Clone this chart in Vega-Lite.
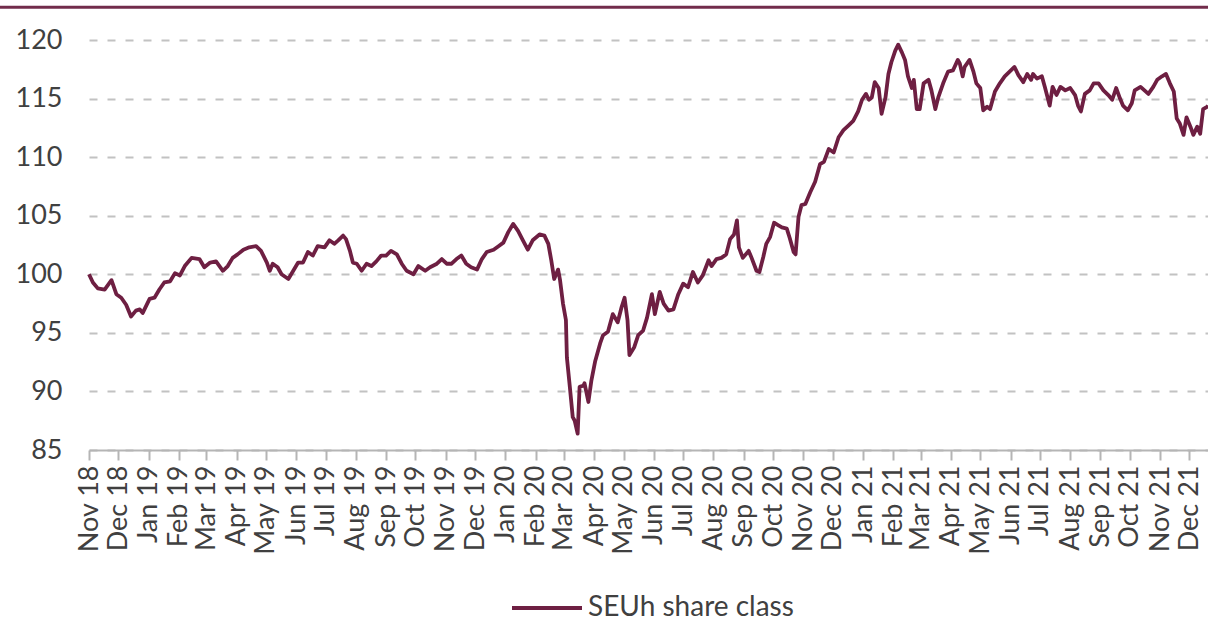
{
  "$schema": "https://vega.github.io/schema/vega-lite/v6.json",
  "width": 1119,
  "height": 410,
  "autosize": {"type": "none"},
  "padding": {"left": 89, "top": 40, "right": 0, "bottom": 173},
  "background": "white",
  "config": {"font": "Lato", "view": {"stroke": null}},
  "layer": [
    {
      "data": {"values": [{"label": "top rule"}]},
      "mark": {"type": "rule", "color": "#722c4b", "strokeWidth": 3},
      "encoding": {
        "y": {"datum": 122.8, "type": "quantitative"},
        "x": {"datum": {"year": 2018, "month": 8, "date": 1, "utc": true}, "type": "temporal"},
        "x2": {"datum": {"year": 2021, "month": 12, "date": 25, "utc": true}}
      }
    },
    {
      "data": {"values": [
        {"date": "2018-11-01", "value": 100.0},
        {"date": "2018-11-05", "value": 99.3},
        {"date": "2018-11-10", "value": 98.8},
        {"date": "2018-11-17", "value": 98.7},
        {"date": "2018-11-24", "value": 99.5},
        {"date": "2018-11-29", "value": 98.3},
        {"date": "2018-12-04", "value": 98.0},
        {"date": "2018-12-09", "value": 97.4},
        {"date": "2018-12-14", "value": 96.4},
        {"date": "2018-12-19", "value": 96.9},
        {"date": "2018-12-23", "value": 97.0},
        {"date": "2018-12-26", "value": 96.7},
        {"date": "2019-01-02", "value": 97.9},
        {"date": "2019-01-07", "value": 98.0},
        {"date": "2019-01-12", "value": 98.7},
        {"date": "2019-01-17", "value": 99.3},
        {"date": "2019-01-23", "value": 99.4},
        {"date": "2019-01-28", "value": 100.1},
        {"date": "2019-02-02", "value": 99.9},
        {"date": "2019-02-07", "value": 100.7},
        {"date": "2019-02-14", "value": 101.4},
        {"date": "2019-02-22", "value": 101.3},
        {"date": "2019-02-27", "value": 100.6},
        {"date": "2019-03-05", "value": 101.0},
        {"date": "2019-03-11", "value": 101.1},
        {"date": "2019-03-18", "value": 100.3},
        {"date": "2019-03-23", "value": 100.7},
        {"date": "2019-03-28", "value": 101.4},
        {"date": "2019-04-02", "value": 101.7},
        {"date": "2019-04-08", "value": 102.1},
        {"date": "2019-04-14", "value": 102.3},
        {"date": "2019-04-21", "value": 102.4},
        {"date": "2019-04-26", "value": 102.0},
        {"date": "2019-05-02", "value": 101.0},
        {"date": "2019-05-05", "value": 100.3},
        {"date": "2019-05-08", "value": 100.9},
        {"date": "2019-05-13", "value": 100.6},
        {"date": "2019-05-17", "value": 100.0},
        {"date": "2019-05-24", "value": 99.6},
        {"date": "2019-05-29", "value": 100.3},
        {"date": "2019-06-03", "value": 101.0},
        {"date": "2019-06-08", "value": 101.0},
        {"date": "2019-06-13", "value": 101.9},
        {"date": "2019-06-18", "value": 101.6},
        {"date": "2019-06-23", "value": 102.4},
        {"date": "2019-06-30", "value": 102.3},
        {"date": "2019-07-05", "value": 102.9},
        {"date": "2019-07-10", "value": 102.6},
        {"date": "2019-07-14", "value": 102.9},
        {"date": "2019-07-19", "value": 103.3},
        {"date": "2019-07-22", "value": 103.0},
        {"date": "2019-07-26", "value": 102.0},
        {"date": "2019-07-29", "value": 101.0},
        {"date": "2019-08-02", "value": 100.9},
        {"date": "2019-08-07", "value": 100.3},
        {"date": "2019-08-12", "value": 100.9},
        {"date": "2019-08-17", "value": 100.7},
        {"date": "2019-08-22", "value": 101.1},
        {"date": "2019-08-27", "value": 101.6},
        {"date": "2019-09-01", "value": 101.6},
        {"date": "2019-09-06", "value": 102.0},
        {"date": "2019-09-12", "value": 101.7},
        {"date": "2019-09-17", "value": 100.9},
        {"date": "2019-09-22", "value": 100.3},
        {"date": "2019-09-29", "value": 100.0},
        {"date": "2019-10-04", "value": 100.7},
        {"date": "2019-10-11", "value": 100.3},
        {"date": "2019-10-16", "value": 100.6},
        {"date": "2019-10-23", "value": 100.9},
        {"date": "2019-10-28", "value": 101.3},
        {"date": "2019-11-02", "value": 100.9},
        {"date": "2019-11-07", "value": 100.9},
        {"date": "2019-11-12", "value": 101.3},
        {"date": "2019-11-17", "value": 101.6},
        {"date": "2019-11-22", "value": 100.9},
        {"date": "2019-11-27", "value": 100.6},
        {"date": "2019-12-03", "value": 100.4},
        {"date": "2019-12-08", "value": 101.3},
        {"date": "2019-12-13", "value": 101.9},
        {"date": "2019-12-20", "value": 102.1},
        {"date": "2019-12-25", "value": 102.4},
        {"date": "2019-12-30", "value": 102.7},
        {"date": "2020-01-04", "value": 103.6},
        {"date": "2020-01-09", "value": 104.3},
        {"date": "2020-01-14", "value": 103.7},
        {"date": "2020-01-19", "value": 102.9},
        {"date": "2020-01-24", "value": 102.1},
        {"date": "2020-01-29", "value": 102.9},
        {"date": "2020-02-05", "value": 103.4},
        {"date": "2020-02-10", "value": 103.3},
        {"date": "2020-02-14", "value": 102.6},
        {"date": "2020-02-17", "value": 101.2},
        {"date": "2020-02-20", "value": 99.6},
        {"date": "2020-02-24", "value": 100.4},
        {"date": "2020-02-26", "value": 99.5},
        {"date": "2020-02-29", "value": 97.5},
        {"date": "2020-03-03", "value": 96.1},
        {"date": "2020-03-04", "value": 92.9},
        {"date": "2020-03-07", "value": 90.4},
        {"date": "2020-03-10", "value": 87.8},
        {"date": "2020-03-12", "value": 87.5},
        {"date": "2020-03-15", "value": 86.4},
        {"date": "2020-03-17", "value": 90.4},
        {"date": "2020-03-21", "value": 90.5},
        {"date": "2020-03-22", "value": 90.7},
        {"date": "2020-03-26", "value": 89.1},
        {"date": "2020-03-29", "value": 90.9},
        {"date": "2020-04-02", "value": 92.6},
        {"date": "2020-04-07", "value": 94.1},
        {"date": "2020-04-10", "value": 94.8},
        {"date": "2020-04-15", "value": 95.1},
        {"date": "2020-04-20", "value": 96.6},
        {"date": "2020-04-25", "value": 95.9},
        {"date": "2020-04-29", "value": 97.2},
        {"date": "2020-05-02", "value": 98.0},
        {"date": "2020-05-05", "value": 96.1},
        {"date": "2020-05-07", "value": 93.1},
        {"date": "2020-05-12", "value": 93.8},
        {"date": "2020-05-16", "value": 94.8},
        {"date": "2020-05-21", "value": 95.2},
        {"date": "2020-05-25", "value": 96.3},
        {"date": "2020-05-30", "value": 98.3},
        {"date": "2020-06-02", "value": 96.6},
        {"date": "2020-06-07", "value": 98.5},
        {"date": "2020-06-11", "value": 97.5},
        {"date": "2020-06-16", "value": 96.9},
        {"date": "2020-06-21", "value": 97.0},
        {"date": "2020-06-26", "value": 98.3},
        {"date": "2020-07-01", "value": 99.2},
        {"date": "2020-07-06", "value": 98.9},
        {"date": "2020-07-11", "value": 100.2},
        {"date": "2020-07-16", "value": 99.3},
        {"date": "2020-07-21", "value": 99.9},
        {"date": "2020-07-27", "value": 101.2},
        {"date": "2020-07-30", "value": 100.7},
        {"date": "2020-08-04", "value": 101.3},
        {"date": "2020-08-09", "value": 101.4},
        {"date": "2020-08-14", "value": 101.7},
        {"date": "2020-08-18", "value": 103.0},
        {"date": "2020-08-22", "value": 103.4},
        {"date": "2020-08-25", "value": 104.6},
        {"date": "2020-08-27", "value": 102.3},
        {"date": "2020-08-31", "value": 101.4},
        {"date": "2020-09-06", "value": 102.0},
        {"date": "2020-09-09", "value": 101.4},
        {"date": "2020-09-14", "value": 100.3},
        {"date": "2020-09-17", "value": 100.2},
        {"date": "2020-09-21", "value": 101.5},
        {"date": "2020-09-24", "value": 102.6},
        {"date": "2020-09-28", "value": 103.2},
        {"date": "2020-10-02", "value": 104.4},
        {"date": "2020-10-06", "value": 104.2},
        {"date": "2020-10-10", "value": 104.0},
        {"date": "2020-10-15", "value": 103.9},
        {"date": "2020-10-18", "value": 103.1},
        {"date": "2020-10-22", "value": 101.9},
        {"date": "2020-10-24", "value": 101.7},
        {"date": "2020-10-27", "value": 104.9},
        {"date": "2020-10-30", "value": 105.9},
        {"date": "2020-11-03", "value": 106.0},
        {"date": "2020-11-08", "value": 107.0},
        {"date": "2020-11-13", "value": 107.9},
        {"date": "2020-11-18", "value": 109.4},
        {"date": "2020-11-22", "value": 109.6},
        {"date": "2020-11-27", "value": 110.7},
        {"date": "2020-12-02", "value": 110.4},
        {"date": "2020-12-07", "value": 111.7},
        {"date": "2020-12-12", "value": 112.3},
        {"date": "2020-12-17", "value": 112.7},
        {"date": "2020-12-22", "value": 113.1},
        {"date": "2020-12-27", "value": 113.9},
        {"date": "2020-12-31", "value": 114.9},
        {"date": "2021-01-04", "value": 115.4},
        {"date": "2021-01-07", "value": 114.9},
        {"date": "2021-01-10", "value": 115.1},
        {"date": "2021-01-13", "value": 116.4},
        {"date": "2021-01-17", "value": 115.9},
        {"date": "2021-01-20", "value": 113.7},
        {"date": "2021-01-24", "value": 115.1},
        {"date": "2021-01-27", "value": 117.1},
        {"date": "2021-01-30", "value": 118.1},
        {"date": "2021-02-03", "value": 119.1},
        {"date": "2021-02-06", "value": 119.6},
        {"date": "2021-02-10", "value": 118.9},
        {"date": "2021-02-13", "value": 118.3},
        {"date": "2021-02-16", "value": 116.9},
        {"date": "2021-02-20", "value": 115.9},
        {"date": "2021-02-22", "value": 116.6},
        {"date": "2021-02-25", "value": 114.1},
        {"date": "2021-02-28", "value": 114.1},
        {"date": "2021-03-04", "value": 116.3},
        {"date": "2021-03-09", "value": 116.6},
        {"date": "2021-03-12", "value": 115.7},
        {"date": "2021-03-16", "value": 114.1},
        {"date": "2021-03-19", "value": 115.1},
        {"date": "2021-03-24", "value": 116.3},
        {"date": "2021-03-29", "value": 117.3},
        {"date": "2021-04-03", "value": 117.4},
        {"date": "2021-04-08", "value": 118.3},
        {"date": "2021-04-10", "value": 118.0},
        {"date": "2021-04-13", "value": 116.9},
        {"date": "2021-04-15", "value": 117.7},
        {"date": "2021-04-20", "value": 118.3},
        {"date": "2021-04-24", "value": 117.3},
        {"date": "2021-04-27", "value": 116.3},
        {"date": "2021-05-01", "value": 115.9},
        {"date": "2021-05-04", "value": 114.0},
        {"date": "2021-05-08", "value": 114.3},
        {"date": "2021-05-11", "value": 114.1},
        {"date": "2021-05-16", "value": 115.6},
        {"date": "2021-05-21", "value": 116.3},
        {"date": "2021-05-26", "value": 116.9},
        {"date": "2021-05-31", "value": 117.3},
        {"date": "2021-06-05", "value": 117.7},
        {"date": "2021-06-09", "value": 117.0},
        {"date": "2021-06-14", "value": 116.4},
        {"date": "2021-06-18", "value": 117.1},
        {"date": "2021-06-22", "value": 116.6},
        {"date": "2021-06-24", "value": 117.1},
        {"date": "2021-06-28", "value": 116.7},
        {"date": "2021-07-03", "value": 116.9},
        {"date": "2021-07-06", "value": 116.0},
        {"date": "2021-07-11", "value": 114.4},
        {"date": "2021-07-14", "value": 116.0},
        {"date": "2021-07-18", "value": 115.3},
        {"date": "2021-07-22", "value": 116.0},
        {"date": "2021-07-27", "value": 115.7},
        {"date": "2021-08-01", "value": 115.9},
        {"date": "2021-08-06", "value": 115.3},
        {"date": "2021-08-09", "value": 114.4},
        {"date": "2021-08-12", "value": 113.9},
        {"date": "2021-08-16", "value": 115.4},
        {"date": "2021-08-21", "value": 115.7},
        {"date": "2021-08-25", "value": 116.3},
        {"date": "2021-08-30", "value": 116.3},
        {"date": "2021-09-04", "value": 115.7},
        {"date": "2021-09-09", "value": 115.3},
        {"date": "2021-09-13", "value": 114.9},
        {"date": "2021-09-17", "value": 115.9},
        {"date": "2021-09-21", "value": 115.0},
        {"date": "2021-09-24", "value": 114.4},
        {"date": "2021-09-29", "value": 114.0},
        {"date": "2021-10-03", "value": 114.6},
        {"date": "2021-10-06", "value": 115.7},
        {"date": "2021-10-12", "value": 116.0},
        {"date": "2021-10-16", "value": 115.7},
        {"date": "2021-10-20", "value": 115.4},
        {"date": "2021-10-25", "value": 116.0},
        {"date": "2021-10-29", "value": 116.6},
        {"date": "2021-11-03", "value": 116.9},
        {"date": "2021-11-07", "value": 117.1},
        {"date": "2021-11-11", "value": 116.3},
        {"date": "2021-11-15", "value": 115.6},
        {"date": "2021-11-18", "value": 113.3},
        {"date": "2021-11-21", "value": 112.9},
        {"date": "2021-11-25", "value": 111.9},
        {"date": "2021-11-28", "value": 113.4},
        {"date": "2021-12-02", "value": 112.6},
        {"date": "2021-12-05", "value": 111.9},
        {"date": "2021-12-09", "value": 112.6},
        {"date": "2021-12-12", "value": 112.0},
        {"date": "2021-12-15", "value": 114.1},
        {"date": "2021-12-19", "value": 114.3},
        {"date": "2021-12-20", "value": 114.4}
      ]},
      "mark": {"type": "line", "strokeWidth": 3.8, "strokeJoin": "round"},
      "encoding": {
        "x": {
          "field": "date",
          "type": "temporal",
          "scale": {
            "type": "utc",
            "domain": [
              {"year": 2018, "month": 11, "date": 1, "utc": true},
              {"year": 2021, "month": 12, "date": 20, "utc": true}
            ]
          },
          "axis": {
            "title": null,
            "format": "%b %y",
            "tickCount": {"interval": "month", "step": 1},
            "labelAngle": -90,
            "labelFontSize": 27,
            "labelColor": "#404040",
            "labelPadding": 5,
            "labelOverlap": false,
            "labelFlush": false,
            "labelBound": false,
            "domainColor": "#b5b5b5",
            "domainWidth": 2,
            "tickColor": "#b5b5b5",
            "tickWidth": 2,
            "tickSize": 10,
            "grid": false
          }
        },
        "y": {
          "field": "value",
          "type": "quantitative",
          "scale": {"domain": [85, 120], "nice": false, "zero": false},
          "axis": {
            "title": null,
            "values": [85, 90, 95, 100, 105, 110, 115, 120],
            "labelFontSize": 27,
            "labelColor": "#404040",
            "labelPadding": 27,
            "domain": false,
            "ticks": false,
            "grid": true,
            "gridColor": "#c2c2c2",
            "gridDash": [8, 10],
            "gridWidth": 2
          }
        },
        "color": {
          "datum": "SEUh share class",
          "scale": {"range": ["#6e1f42"]},
          "legend": {
            "title": null,
            "orient": "none",
            "legendX": 421,
            "legendY": 531,
            "symbolType": "stroke",
            "symbolSize": 4900,
            "symbolStrokeWidth": 4,
            "labelFontSize": 28,
            "labelLimit": 500,
            "labelColor": "#404040",
            "labelOffset": 4
          }
        }
      }
    }
  ]
}
